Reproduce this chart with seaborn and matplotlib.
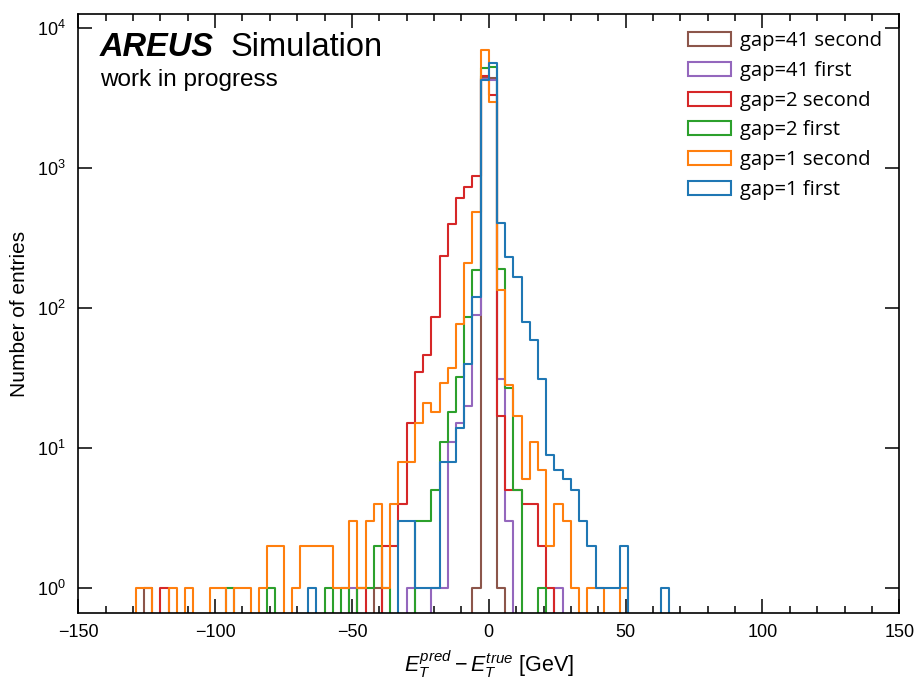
import numpy as np
import pandas as pd
import matplotlib
matplotlib.use("Agg")
import matplotlib.pyplot as plt
import seaborn as sns
from matplotlib.patches import Patch
from matplotlib.ticker import MultipleLocator, NullLocator, LogLocator

# 3 GeV bins; left edges of the populated range
bin_left = list(range(-132, 66, 3))

# entries per bin, one list per reconstruction
gap1_first = [
    0, 0, 0, 0, 0, 0, 0, 0, 0, 0, 0,
    0, 0, 0, 0, 0, 0, 0, 0, 0, 0, 0,
    1, 0, 0, 0, 0, 0, 0, 0, 0, 0, 0,
    3, 3, 1, 1, 1, 8, 8, 14, 40, 120, 4223,
    5585, 405, 232, 167, 79, 59, 31, 9, 7, 6, 5,
    3, 2, 1, 1, 1, 2, 0, 0, 0, 0, 1,
]
gap1_second = [
    0, 1, 1, 0, 0, 1, 0, 1, 0, 0, 1,
    1, 0, 1, 1, 0, 1, 2, 2, 0, 1, 2,
    2, 2, 2, 1, 1, 3, 1, 3, 4, 1, 4,
    8, 8, 15, 21, 18, 29, 37, 77, 208, 485, 6910,
    2942, 134, 28, 17, 6, 11, 7, 2, 4, 3, 1,
    0, 1, 1, 0, 0, 1, 0, 0, 0, 0, 0,
]
gap2_first = [
    0, 0, 0, 0, 0, 0, 0, 0, 0, 0, 0,
    0, 1, 0, 0, 0, 0, 1, 0, 0, 0, 0,
    0, 0, 1, 0, 1, 0, 1, 1, 2, 1, 0,
    0, 0, 3, 3, 5, 11, 18, 32, 86, 186, 5170,
    5200, 189, 27, 5, 0, 0, 1, 0, 0, 0, 0,
    0, 0, 0, 0, 0, 0, 0, 0, 0, 0, 0,
]
gap2_second = [
    0, 0, 0, 0, 1, 0, 0, 0, 0, 0, 0,
    0, 0, 0, 0, 0, 0, 0, 0, 0, 0, 0,
    0, 0, 0, 0, 0, 0, 1, 0, 0, 2, 2,
    4, 15, 35, 46, 86, 234, 396, 611, 732, 874, 4510,
    3320, 17, 5, 5, 4, 4, 2, 1, 0, 0, 0,
    0, 0, 0, 0, 0, 0, 0, 0, 0, 0, 0,
]
gap41_first = [
    0, 0, 0, 0, 0, 0, 0, 0, 0, 0, 0,
    0, 0, 0, 0, 0, 0, 0, 0, 0, 0, 0,
    0, 0, 0, 0, 0, 1, 0, 0, 0, 0, 0,
    0, 1, 0, 0, 1, 1, 11, 15, 20, 89, 4300,
    4200, 31, 3, 0, 0, 0, 0, 0, 1, 0, 0,
    0, 0, 0, 0, 0, 0, 0, 0, 0, 0, 0,
]
gap41_second = [
    0, 0, 1, 0, 0, 0, 0, 0, 0, 0, 0,
    0, 0, 0, 0, 0, 0, 0, 0, 0, 0, 0,
    0, 0, 0, 0, 0, 0, 0, 0, 1, 0, 0,
    0, 0, 0, 0, 0, 0, 0, 0, 0, 1, 4400,
    4400, 1, 0, 0, 0, 0, 0, 0, 0, 0, 0,
    0, 0, 0, 0, 0, 0, 0, 0, 0, 0, 0,
]

labels = ["gap=1 first", "gap=1 second", "gap=2 first",
          "gap=2 second", "gap=41 first", "gap=41 second"]
series = [gap1_first, gap1_second, gap2_first,
          gap2_second, gap41_first, gap41_second]
colors = ["#1f77b4", "#ff7f0e", "#2ca02c", "#d62728", "#9467bd", "#8c564b"]

bin_width = 3
edges = [float(e) for e in np.arange(-150, 150 + bin_width, bin_width)]
centers = np.array(bin_left) + bin_width / 2

frames = [pd.DataFrame({"x": centers, "n": vals, "label": lab})
          for lab, vals in zip(labels, series)]
df = pd.concat(frames, ignore_index=True)

sns.set_theme(style="ticks")
plt.rcParams["font.family"] = ["Liberation Sans", "DejaVu Sans"]
plt.rcParams.update({
    "mathtext.fontset": "custom",
    "mathtext.rm": "Liberation Sans",
    "mathtext.it": "Liberation Sans:italic",
    "mathtext.bf": "Liberation Sans:bold",
    "axes.linewidth": 1.2,
    "axes.edgecolor": "black",
    "axes.labelcolor": "black",
    "text.color": "black",
    "xtick.color": "black",
    "ytick.color": "black",
})

fig = plt.figure(figsize=(9.2, 6.8), dpi=100)
ax = fig.add_axes([0.0851, 0.0981, 0.8924, 0.8813])

# last series drawn first so that gap=1 first ends up on top
for lab, col in reversed(list(zip(labels, colors))):
    sns.histplot(data=df[df["label"] == lab], x="x", weights="n",
                 bins=edges, element="step", fill=False, color=col,
                 linewidth=1.5, ax=ax)

ax.set_yscale("log")
ax.set_xlim(-150, 150)
ax.set_ylim(0.663, 1.25e4)

ax.xaxis.set_major_locator(MultipleLocator(50))
ax.xaxis.set_minor_locator(MultipleLocator(10))
ax.yaxis.set_major_locator(LogLocator(base=10))
ax.yaxis.set_minor_locator(NullLocator())
ax.tick_params(which="both", direction="in", top=True, right=True,
               labelsize=13, width=1.1)
ax.tick_params(which="major", length=10)
ax.tick_params(which="minor", length=5)
ax.tick_params(axis="x", which="major", pad=8)
ax.tick_params(axis="y", which="major", pad=9)

ax.set_xlabel(r"$E_T^{pred} - E_T^{true}$ [GeV]", fontsize=15.5, labelpad=5)
ax.set_ylabel("Number of entries", fontsize=15, labelpad=6)

t = ax.text(0.026, 0.93, "AREUS", transform=ax.transAxes, fontsize=23.5,
            fontweight="bold", fontstyle="italic", va="baseline")
ax.annotate("Simulation", xy=(1, 0), xycoords=t, xytext=(12, 0),
            textcoords="offset points", fontsize=23.5, va="bottom")
ax.text(0.026, 0.88, "work in progress", transform=ax.transAxes,
        fontsize=17.5, va="baseline")

handles = [Patch(facecolor="none", edgecolor=c, linewidth=1.5)
           for c in reversed(colors)]
ax.legend(handles, list(reversed(labels)), loc="upper right", frameon=False,
          prop={"family": "Open Sans", "size": 14.6}, handlelength=2.1,
          handleheight=0.69, handletextpad=0.45, labelspacing=0.48,
          borderaxespad=0.45)

fig.savefig("out.png", dpi=100)
